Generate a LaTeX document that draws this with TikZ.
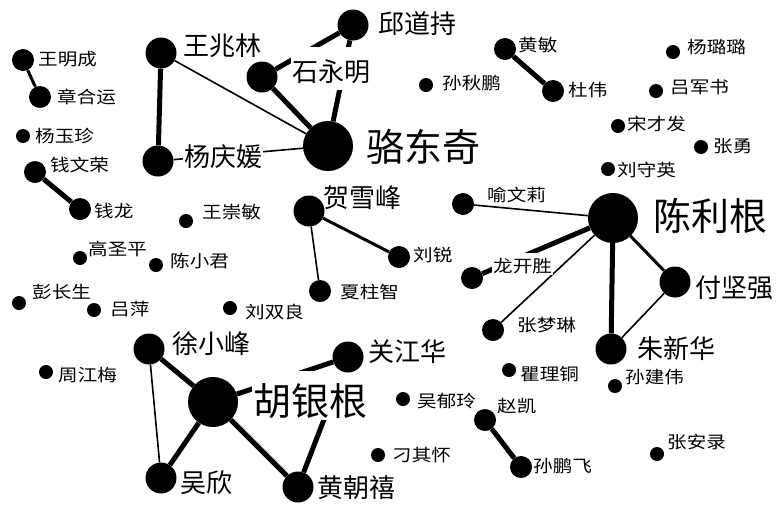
\documentclass[tikz,border=0pt]{standalone}
\usepackage{fontspec}
\usepackage{tikz}
\newfontfamily\cjk{Noto Sans CJK SC}
\newfontfamily\cjkwide[FakeStretch=1.15]{Noto Sans CJK SC}
\pgfdeclarelayer{edgelayer}
\pgfdeclarelayer{namelayer}
\pgfdeclarelayer{nodelayer}
\pgfsetlayers{edgelayer,namelayer,nodelayer,main}
\tikzstyle{hub}=[circle, fill=black, draw=none, inner sep=0pt, minimum size=50pt]
\tikzstyle{actor}=[circle, fill=black, draw=none, inner sep=0pt, minimum size=31pt]
\tikzstyle{member}=[circle, fill=black, draw=none, inner sep=0pt, minimum size=22pt]
\tikzstyle{loner}=[circle, fill=black, draw=none, inner sep=0pt, minimum size=14pt]
\tikzstyle{bigname}=[fill=white, inner sep=1pt, anchor=base west, text height=43pt, text depth=4pt, font=\cjk\fontsize{38}{38}\selectfont]
\tikzstyle{midname}=[fill=white, inner sep=1pt, anchor=base west, text height=28pt, text depth=3pt, font=\cjk\fontsize{26}{26}\selectfont]
\tikzstyle{smallname}=[fill=white, inner sep=1pt, anchor=base west, text height=18pt, text depth=2pt, font=\cjkwide\fontsize{17}{17}\selectfont]
\tikzstyle{thinlink}=[-, draw=black, line width=1.6pt]
\tikzstyle{midlink}=[-, draw=black, line width=3pt]
\tikzstyle{thicklink}=[-, draw=black, line width=5pt]

\begin{document}
\begin{tikzpicture}[x=1pt, y=-1pt]
            \useasboundingbox (0, 0) rectangle (776, 504);
            \begin{pgfonlayer}{nodelayer}
                % hubs
                \node [style=hub] (ldq) at (328, 146) {};
                \node [style=hub] (clg) at (613, 218) {};
                \node [style=hub] (hyg) at (213, 402) {};

                \node [style=actor] (qdc) at (353, 25) {};
                \node [style=actor] (wzl) at (161, 53) {};
                \node [style=actor] (sym) at (262, 77) {};
                \node [style=actor] (yqy) at (158, 161) {};
                \node [style=actor] (hxf) at (309, 211) {};
                \node [style=actor] (fjq) at (675, 282) {};
                \node [style=actor] (zxh) at (611, 349) {};
                \node [style=actor] (xxf) at (149, 349) {};
                \node [style=actor] (gjh) at (348, 357) {};
                \node [style=actor] (wx) at (161, 478) {};
                \node [style=actor] (hzx) at (298, 487) {};

                \node [style=member] (wmc) at (23, 60) {};
                \node [style=member] (zhy) at (40, 97) {};
                \node [style=member] (qwr) at (35, 172) {};
                \node [style=member] (ql) at (80, 209) {};
                \node [style=member] (ywl) at (463, 204) {};
                \node [style=member] (lr) at (399, 257) {};
                \node [style=member] (xzz) at (320, 291) {};
                \node [style=member] (lks) at (472, 278) {};
                \node [style=member] (zml) at (493, 330) {};
                \node [style=member] (zk) at (485, 420) {};
                \node [style=member] (spf) at (521, 467) {};
                \node [style=member] (hm) at (505, 49) {};
                \node [style=member] (dw) at (553, 91) {};

                \node [style=loner] (yyz) at (23, 136) {};
                \node [style=loner] (wcm) at (186, 221) {};
                \node [style=loner] (gsp) at (80, 258) {};
                \node [style=loner] (cxj) at (156, 265) {};
                \node [style=loner] (pcs) at (19, 303) {};
                \node [style=loner] (lp) at (94, 310) {};
                \node [style=loner] (lsl) at (230, 308) {};
                \node [style=loner] (zjm) at (46, 372) {};
                \node [style=loner] (qlt) at (509, 370) {};
                \node [style=loner] (sjw) at (615, 386) {};
                \node [style=loner] (wyl) at (403, 399) {};
                \node [style=loner] (dqh) at (378, 455) {};
                \node [style=loner] (zal) at (657, 454) {};
                \node [style=loner] (sqp) at (426, 85) {};
                \node [style=loner] (yll) at (673, 52) {};
                \node [style=loner] (ljs) at (656, 91) {};
                \node [style=loner] (scf) at (618, 126) {};
                \node [style=loner] (zy) at (701, 147) {};
                \node [style=loner] (lsy) at (608, 169) {};
            \end{pgfonlayer}
            \begin{pgfonlayer}{namelayer}
                \node [style=bigname] (ldqL) at (365, 161) {骆东奇};
                \node [style=bigname] (clgL) at (652, 230) {陈利根};
                \node [style=bigname] (hygL) at (252, 415) {胡银根};

                \node [style=midname] (qdcL) at (377, 33) {邱道持};
                \node [style=midname] (wzlL) at (182, 55) {王兆林};
                \node [style=midname, inner ysep=6pt] (symL) at (291, 81) {石永明};
                \node [style=midname] (yqyL) at (183, 166) {杨庆媛};
                \node [style=midname] (hxfL) at (322, 207) {贺雪峰};
                \node [style=midname] (fjqL) at (694, 297) {付坚强};
                \node [style=midname] (zxhL) at (636, 358) {朱新华};
                \node [style=midname] (xxfL) at (171, 353) {徐小峰};
                \node [style=midname] (gjhL) at (367, 361) {关江华};
                \node [style=midname] (wxL) at (179, 492) {吴欣};
                \node [style=midname] (hzxL) at (316, 497) {黄朝禧};

                \node [style=smallname] (wmcL) at (37, 65) {王明成};
                \node [style=smallname] (zhyL) at (56, 103) {章合运};
                \node [style=smallname] (yyzL) at (34, 142) {杨玉珍};
                \node [style=smallname] (qwrL) at (49, 171) {钱文荣};
                \node [style=smallname] (qlL) at (93, 217) {钱龙};
                \node [style=smallname] (wcmL) at (201, 218) {王崇敏};
                \node [style=smallname] (ywlL) at (486, 201) {喻文莉};
                \node [style=smallname] (lrL) at (412, 261) {刘锐};
                \node [style=smallname] (xzzL) at (339, 298) {夏柱智};
                \node [style=smallname] (gspL) at (87, 255) {高圣平};
                \node [style=smallname] (cxjL) at (169, 267) {陈小君};
                \node [style=smallname] (lksL) at (492, 272) {龙开胜};
                \node [style=smallname] (pcsL) at (31, 298) {彭长生};
                \node [style=smallname] (lpL) at (109, 315) {吕萍};
                \node [style=smallname] (lslL) at (244, 318) {刘双良};
                \node [style=smallname] (zmlL) at (516, 331) {张梦琳};
                \node [style=smallname] (zjmL) at (57, 381) {周江梅};
                \node [style=smallname] (qltL) at (519, 380) {瞿理铜};
                \node [style=smallname] (sjwL) at (624, 383) {孙建伟};
                \node [style=smallname] (wylL) at (416, 407) {吴郁玲};
                \node [style=smallname] (zkL) at (496, 412) {赵凯};
                \node [style=smallname] (dqhL) at (391, 461) {刁其怀};
                \node [style=smallname] (spfL) at (532, 472) {孙鹏飞};
                \node [style=smallname] (zalL) at (666, 448) {张安录};
                \node [style=smallname] (hmL) at (517, 51) {黄敏};
                \node [style=smallname] (sqpL) at (441, 89) {孙秋鹏};
                \node [style=smallname] (dwL) at (567, 96) {杜伟};
                \node [style=smallname] (yllL) at (686, 53) {杨璐璐};
                \node [style=smallname] (ljsL) at (669, 93) {吕军书};
                \node [style=smallname] (scfL) at (626, 130) {宋才发};
                \node [style=smallname] (zyL) at (712, 152) {张勇};
                \node [style=smallname] (lsyL) at (616, 176) {刘守英};
            \end{pgfonlayer}
            \begin{pgfonlayer}{edgelayer}
                \draw [style=thicklink] (wzl) to (yqy);
                \draw [style=thinlink] (wzl) to (ldq);
                \draw [style=thicklink] (sym) to (ldq);
                \draw [style=thicklink] (ldq) to (qdc);
                \draw [style=thicklink] (sym) to (qdc);
                \draw [style=thinlink] (yqy) to (ldq);

                \draw [style=midlink] (wmc) to (zhy);
                \draw [style=thicklink] (qwr) to (ql);
                \draw [style=thicklink] (hm) to (dw);

                \draw [style=midlink] (hxf) to (lr);
                \draw [style=thinlink] (hxf) to (xzz);

                \draw [style=thinlink] (ywl) to (clg);
                \draw [style=thicklink] (lks) to (clg);
                \draw [style=thinlink] (zml) to (clg);
                \draw [style=thicklink] (zxh) to (clg);
                \draw [style=midlink] (fjq) to (clg);
                \draw [style=thinlink] (fjq) to (zxh);

                \draw [style=thicklink] (xxf) to (hyg);
                \draw [style=thinlink] (xxf) to (wx);
                \draw [style=thicklink] (wx) to (hyg);
                \draw [style=thicklink] (hyg) to (hzx);
                \draw [style=thicklink] (gjh) to (hyg);
                \draw [style=thicklink] (gjh) to (hzx);

                \draw [style=thicklink] (zk) to (spf);
            \end{pgfonlayer}
        \end{tikzpicture}
\end{document}
